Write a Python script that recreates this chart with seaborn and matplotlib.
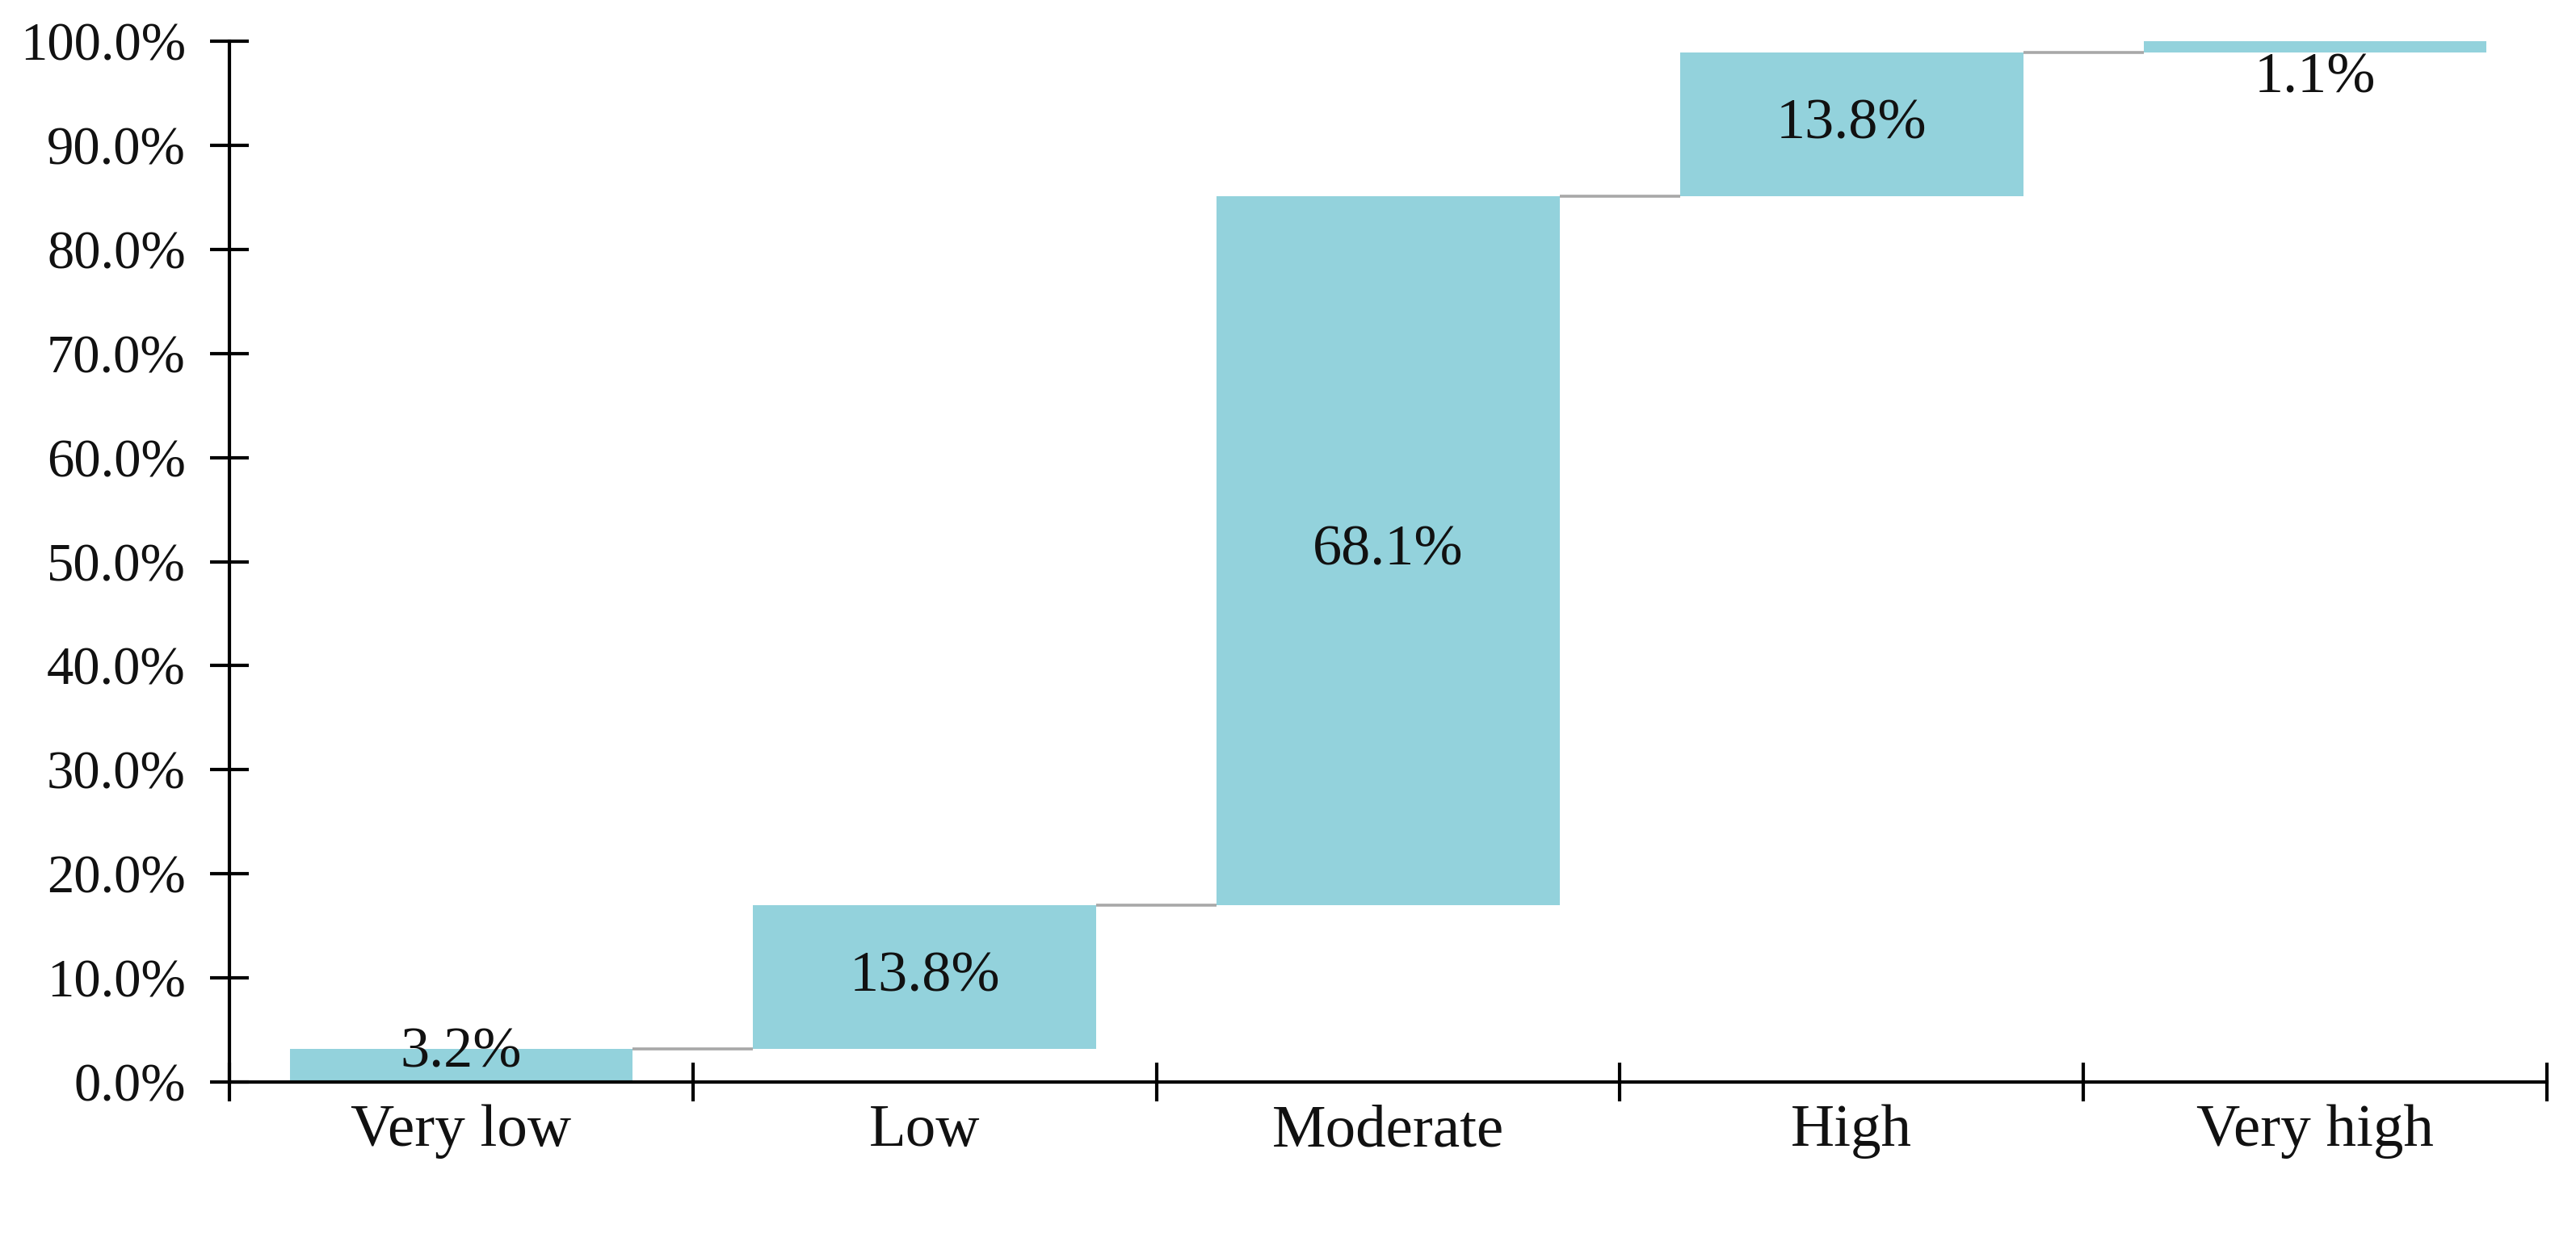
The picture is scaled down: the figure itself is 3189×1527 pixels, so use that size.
import matplotlib
matplotlib.use("Agg")
import matplotlib.pyplot as plt
import seaborn as sns
import numpy as np
import pandas as pd
from matplotlib.ticker import FuncFormatter

# ---- data ----
categories = ["Very low", "Low", "Moderate", "High", "Very high"]
values = [3.2, 13.8, 68.1, 13.8, 1.1]
y_ticks = [0, 10, 20, 30, 40, 50, 60, 70, 80, 90, 100]

# ---- styles ----
BAR_COLOR = "#93D2DC"
CONNECTOR_COLOR = "#A8A8A8"
BAR_WIDTH = 0.74
label_offsets = [1.2, 0.0, 0.0, 0.0, -3.0]

tops = np.cumsum(values)
bases = tops - np.array(values)

sns.set_theme(style="white")
plt.rcParams['font.family'] = ['Liberation Serif', 'DejaVu Serif']

fig = plt.figure(figsize=(15.945, 7.635), dpi=200)
ax = fig.add_axes([284 / 3189, 1 - 1340 / 1527, (3153 - 284) / 3189, (1340 - 51) / 1527])

df = pd.DataFrame({"category": categories, "value": values, "base": bases})
sns.barplot(data=df, x="category", y="value", order=categories, color=BAR_COLOR,
            saturation=1, width=BAR_WIDTH, bottom=df["base"].values,
            edgecolor="none", linewidth=0, ax=ax, zorder=1)

# connectors
for i in range(len(values) - 1):
    ax.plot([i + BAR_WIDTH / 2, i + 1 - BAR_WIDTH / 2], [tops[i], tops[i]],
            color=CONNECTOR_COLOR, lw=1.3, solid_capstyle="butt", zorder=1)

# value labels
for i, v in enumerate(values):
    ax.text(i, bases[i] + v / 2 + label_offsets[i], f"{v:.1f}%", ha="center", va="center",
            fontsize=26, color="#111111", zorder=3)

ax.set_xlim(-0.5, len(categories) - 0.5)
ax.set_ylim(0, 100)
ax.set_yticks(y_ticks)
ax.yaxis.set_major_formatter(FuncFormatter(lambda v, p: f"{v:.1f}%"))
ax.set_xticks(range(len(categories)))
ax.set_xticklabels(categories)
ax.set_xticks(np.arange(-0.5, len(categories), 1), minor=True)
ax.set_xlabel("")
ax.set_ylabel("")

for s in ["top", "right"]:
    ax.spines[s].set_visible(False)
for s in ["left", "bottom"]:
    ax.spines[s].set_color("black")
    ax.spines[s].set_linewidth(1.5)
    ax.spines[s].set_zorder(2.5)

ax.tick_params(axis="y", direction="inout", length=17, width=1.5, color="black",
               pad=11, labelsize=24, labelcolor="#111111", left=True)
ax.tick_params(axis="x", which="major", length=0, pad=10, labelsize=27, labelcolor="#111111")
ax.tick_params(axis="x", which="minor", direction="inout", length=17, width=1.5,
               color="black", bottom=True)

fig.savefig("out.png", dpi=200, facecolor="white")
